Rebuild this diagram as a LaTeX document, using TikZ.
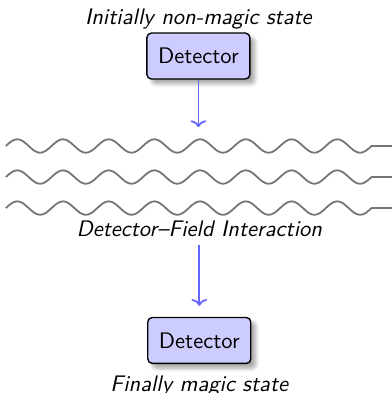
\documentclass[tikz,border=0pt]{standalone}
\usepackage{tikz}
\usetikzlibrary{arrows.meta,positioning,shadows.blur}
\definecolor{detfill}{HTML}{CCCCFF}
\definecolor{flowblue}{HTML}{6666FF}
\definecolor{fieldgray}{HTML}{757575}
\tikzset{
  detbox/.style={
    rectangle, rounded corners=2pt, draw=black, fill=detfill, semithick,
    minimum width=45.8pt, minimum height=20.4pt,
    font=\sffamily, align=center, inner sep=3pt,
    blur shadow={shadow blur steps=8, shadow opacity=35}
  },
  statelabel/.style={
    font=\sffamily\itshape
  },
  flowarrow/.style={
    -{Computer Modern Rightarrow[length=3pt,width=7pt]}, thick, color=#1
  },
  flowarrow/.default=flowblue,
  fieldline/.style={
    thick, color=fieldgray, line join=round
  },
}
\begin{document}
\begin{tikzpicture}
\useasboundingbox (-88.2pt,24.9pt) rectangle (86pt,-149.8pt);

% Detector before the interaction
\node[detbox] (det1) at (0,0) {Detector};
\node[statelabel, above=3.6pt of det1, anchor=base] (initlabel) {Initially non-magic state};

% Field modes: eight sine periods, then straight
\foreach \i in {0,1,2} {
  \coordinate (fieldL\i) at (-85.6pt,-40pt-13.8pt*\i);
  \coordinate (fieldR\i) at (86pt,-40pt-13.8pt*\i);
  \draw[fieldline] (fieldL\i)
    \foreach \k in {1,...,8} {
      sin ++(5.08pt,3pt) cos ++(5.08pt,-3pt) sin ++(5.08pt,-3pt) cos ++(5.08pt,3pt)
    } -- (fieldR\i);
}
\coordinate (fieldtop) at (0,-31.6pt);
\node[statelabel, anchor=base] (fieldlabel) at (0.4pt,-80.4pt) {Detector--Field Interaction};

% Detector after the interaction
\node[detbox, below=31.9pt of fieldlabel] (det2) {Detector};
\node[statelabel, below=12.4pt of det2, anchor=base] (finallabel) {Finally magic state};

% Flow
\draw[flowarrow] (det1) -- (fieldtop);
\draw[flowarrow, shorten >=4.9pt] (fieldlabel) -- (det2);

\end{tikzpicture}
\end{document}
